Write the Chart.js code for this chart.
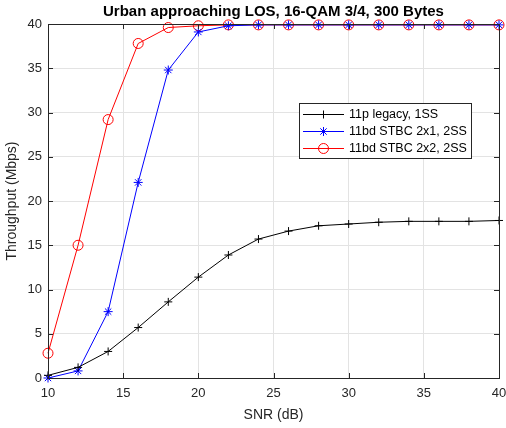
<!DOCTYPE html>
<html>
<head>
<meta charset="utf-8">
<script src="https://cdn.jsdelivr.net/npm/chart.js@4/dist/chart.umd.min.js"></script>
<style>
  html, body { margin: 0; padding: 0; background: #fff; }
  #wrap { width: 506px; height: 428px; position: relative; }
</style>
</head>
<body>
<div id="wrap"><canvas id="chart"></canvas></div>
<script>
// SNR (dB)
const snr = [10, 12, 14, 16, 18, 20, 22, 24, 26, 28, 30, 32, 34, 36, 38, 40];
const legacy1ss = [0.3, 1.2, 3.0, 5.7, 8.6, 11.4, 13.9, 15.7, 16.6, 17.2, 17.4, 17.6, 17.7, 17.7, 17.7, 17.8];
const stbc2x1 = [0.0, 0.8, 7.5, 22.1, 34.8, 39.1, 39.8, 39.9, 39.9, 39.9, 39.9, 39.9, 39.9, 39.9, 39.9, 39.9];
const stbc2x2 = [2.8, 15.0, 29.2, 37.8, 39.6, 39.8, 39.9, 39.9, 39.9, 39.9, 39.9, 39.9, 39.9, 39.9, 39.9, 39.9];
const seriesNames = ['11p legacy, 1SS', '11bd STBC 2x1, 2SS', '11bd STBC 2x2, 2SS'];
const xTicks = [10, 15, 20, 25, 30, 35, 40];
const yTicks = [0, 5, 10, 15, 20, 25, 30, 35, 40];

const FONT = 'Liberation Sans, Arial, sans-serif';
const AXIS = '#262626';

function pts(ys) {
    return snr.map((x, i) => ({ x: x, y: ys[i] }));
}

// cadre, petits traits vers l'intérieur, titre et légende façon MATLAB
const matlabLook = {
    id: 'matlabLook',
    afterDraw(chart) {
        const ctx = chart.ctx;
        const a = chart.chartArea;
        const xs = chart.scales.x, ys = chart.scales.y;
        ctx.save();
        ctx.strokeStyle = AXIS;
        ctx.lineWidth = 1;
        ctx.beginPath();
        xTicks.forEach(v => {
            const px = Math.round(xs.getPixelForValue(v)) + 0.5;
            ctx.moveTo(px, a.bottom); ctx.lineTo(px, a.bottom - 5);
            ctx.moveTo(px, a.top); ctx.lineTo(px, a.top + 5);
        });
        yTicks.forEach(v => {
            const py = Math.round(ys.getPixelForValue(v)) + 0.5;
            ctx.moveTo(a.left, py); ctx.lineTo(a.left + 5, py);
            ctx.moveTo(a.right, py); ctx.lineTo(a.right - 5, py);
        });
        ctx.stroke();
        ctx.strokeRect(Math.round(a.left) + 0.5, Math.round(a.top) + 0.5,
            Math.round(a.right - a.left), Math.round(a.bottom - a.top));

        // titre
        ctx.fillStyle = '#000';
        ctx.font = 'bold 15px ' + FONT;
        ctx.textAlign = 'center';
        ctx.textBaseline = 'middle';
        ctx.fillText('Urban approaching LOS, 16-QAM 3/4, 300 Bytes', (a.left + a.right) / 2, 12);

        // légende
        const bx = 299.5, by = 103.5, bw = 172, bh = 55;
        ctx.fillStyle = '#fff';
        ctx.fillRect(bx, by, bw, bh);
        ctx.strokeStyle = '#262626';
        ctx.strokeRect(bx, by, bw, bh);
        const rowY = [114.5, 131.5, 148.5];
        ctx.font = '12.5px ' + FONT;
        ctx.textAlign = 'left';
        chart.data.datasets.forEach((ds, i) => {
            const y = rowY[i];
            ctx.strokeStyle = ds.borderColor;
            ctx.lineWidth = 1;
            ctx.beginPath();
            ctx.moveTo(303, y); ctx.lineTo(344, y);
            ctx.stroke();
            ctx.fillStyle = 'rgba(0,0,0,0)';
            ctx.strokeStyle = ds.pointBorderColor;
            Chart.helpers.drawPoint(ctx, {
                pointStyle: ds.pointStyle, radius: ds.pointRadius,
                borderWidth: 1, rotation: 0
            }, 323.5, y);
            ctx.fillStyle = '#000';
            ctx.fillText(seriesNames[i], 349, y + 0.5);
        });
        ctx.restore();
    }
};

const ctx = document.getElementById('chart').getContext('2d');
new Chart(ctx, {
    type: 'line',
    data: {
        datasets: [{
            label: seriesNames[0],
            data: pts(legacy1ss),
            borderColor: '#000000',
            pointBorderColor: '#000000',
            backgroundColor: 'rgba(0,0,0,0)',
            pointStyle: 'cross',
            pointRadius: 4,
            borderWidth: 1,
            pointBorderWidth: 1,
            tension: 0,
            clip: false
        }, {
            label: seriesNames[1],
            data: pts(stbc2x1),
            borderColor: '#0000ff',
            pointBorderColor: '#0000ff',
            backgroundColor: 'rgba(0,0,0,0)',
            pointStyle: 'star',
            pointRadius: 4.5,
            borderWidth: 1,
            pointBorderWidth: 1,
            tension: 0,
            clip: false
        }, {
            label: seriesNames[2],
            data: pts(stbc2x2),
            borderColor: '#ff0000',
            pointBorderColor: '#ff0000',
            backgroundColor: 'rgba(0,0,0,0)',
            pointStyle: 'circle',
            pointRadius: 5,
            borderWidth: 1,
            pointBorderWidth: 1,
            tension: 0,
            clip: false
        }]
    },
    options: {
        responsive: true,
        maintainAspectRatio: false,
        animation: false,
        layout: { padding: { left: 0, top: 24, right: 7, bottom: 0 } },
        plugins: {
            legend: { display: false },
            title: { display: false },
            tooltip: { enabled: false }
        },
        scales: {
            x: {
                type: 'linear',
                min: 10, max: 40,
                afterBuildTicks: s => { s.ticks = xTicks.map(v => ({ value: v })); },
                afterFit: s => { s.height = 50; s.paddingLeft = 0; s.paddingRight = 0; },
                border: { display: false },
                grid: { color: '#e3e3e3', drawTicks: false, lineWidth: 1 },
                ticks: { color: AXIS, font: { family: FONT, size: 13 }, padding: 8, maxRotation: 0 },
                title: { display: true, text: 'SNR (dB)', color: AXIS, font: { family: FONT, size: 14 }, padding: { top: 4 } }
            },
            y: {
                type: 'linear',
                min: 0, max: 40,
                afterBuildTicks: s => { s.ticks = yTicks.map(v => ({ value: v })); },
                afterFit: s => { s.width = 48; },
                border: { display: false },
                grid: { color: '#e3e3e3', drawTicks: false, lineWidth: 1 },
                ticks: { color: AXIS, font: { family: FONT, size: 13 }, padding: 6 },
                title: { display: true, text: 'Throughput (Mbps)', color: AXIS, font: { family: FONT, size: 14 }, padding: { bottom: 2 } }
            }
        }
    },
    plugins: [matlabLook]
});
</script>
</body>
</html>
